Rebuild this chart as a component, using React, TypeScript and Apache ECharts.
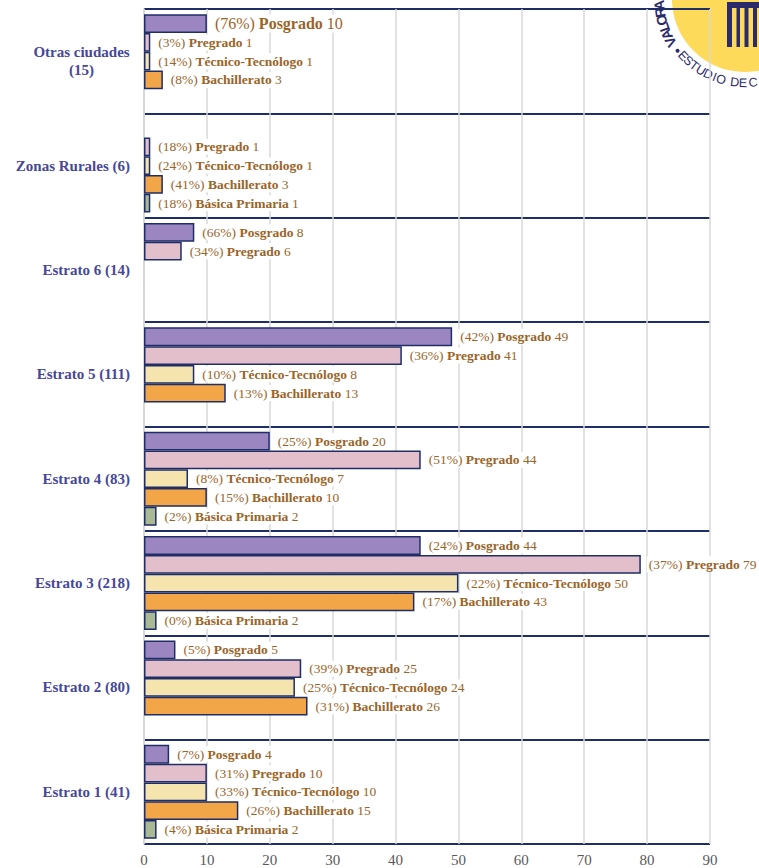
import React, { useEffect, useRef } from 'react';
import * as echarts from 'echarts';

const categories = [
  'Estrato 1 (41)',
  'Estrato 2 (80)',
  'Estrato 3 (218)',
  'Estrato 4 (83)',
  'Estrato 5 (111)',
  'Estrato 6 (14)',
  'Zonas Rurales (6)',
  'Otras ciudades (15)',
];

const seriesNames = ['Posgrado', 'Pregrado', 'Técnico-Tecnólogo', 'Bachillerato', 'Básica Primaria'];

const posgrado = [4, 5, 44, 20, 49, 8, null, 10];
const posgradoPct = [7, 5, 24, 25, 42, 66, null, 76];
const pregrado = [10, 25, 79, 44, 41, 6, 1, 1];
const pregradoPct = [31, 39, 37, 51, 36, 34, 18, 3];
const tecnico = [10, 24, 50, 7, 8, null, 1, 1];
const tecnicoPct = [33, 25, 22, 8, 10, null, 24, 14];
const bachillerato = [15, 26, 43, 10, 13, null, 3, 3];
const bachilleratoPct = [26, 31, 17, 15, 13, null, 41, 8];
const basica = [2, null, 2, 2, null, null, 1, null];
const basicaPct = [4, null, 0, 2, null, null, 18, null];

const xTicks = [0, 10, 20, 30, 40, 50, 60, 70, 80, 90];

const NAVY = '#1F2E66';
const LABEL_BROWN = '#9A6428';
const CAT_COLOR = '#47479A';
const SERIF = 'Liberation Serif';
const LOGO_NAVY = '#2B2A6B';

const seriesValues = [posgrado, pregrado, tecnico, bachillerato, basica];
const seriesPcts = [posgradoPct, pregradoPct, tecnicoPct, bachilleratoPct, basicaPct];
const seriesColors = ['#9C86C2', '#E3BECB', '#F5E4AD', '#F2A647', '#A8B994'];

export default function App() {
  const ref = useRef<HTMLDivElement>(null);

  useEffect(() => {
    const chart = echarts.init(ref.current!, null, { renderer: 'svg' });

    const logoCx = 745;
    const logoCy = -1;
    const deg = Math.PI / 180;
    const logoTexts: any[] = [];
    const valora = 'VALORA';
    const valoraAngles = [150, 155.6, 160.8, 165.8, 171, 176];
    valora.split('').forEach((ch, i) => {
      const th = valoraAngles[i];
      const R = 86;
      logoTexts.push({
        type: 'text',
        x: logoCx + R * Math.cos(th * deg),
        y: logoCy + R * Math.sin(th * deg),
        rotation: (270 - th) * deg,
        style: {
          text: ch,
          fill: LOGO_NAVY,
          font: 'bold 14px Liberation Sans',
          align: 'center',
          verticalAlign: 'middle',
        },
      });
    });
    logoTexts.push({
      type: 'circle',
      shape: { cx: logoCx + 85 * Math.cos(142.5 * deg), cy: logoCy + 85 * Math.sin(142.5 * deg), r: 2 },
      style: { fill: LOGO_NAVY },
    });
    const estudio = 'ESTUDIO DE C';
    const estAngles = [137.5, 132.5, 127.5, 121.8, 116, 111.3, 106.6, 100, 97, 91.3, 88, 84.5];
    estudio.split('').forEach((ch, i) => {
      if (ch === ' ') return;
      const th = estAngles[i];
      const R = 84;
      logoTexts.push({
        type: 'text',
        x: logoCx + R * Math.cos(th * deg),
        y: logoCy + R * Math.sin(th * deg),
        rotation: (90 - th) * deg,
        style: {
          text: ch,
          fill: LOGO_NAVY,
          font: '12.5px Liberation Sans',
          align: 'center',
          verticalAlign: 'middle',
        },
      });
    });

    const option: any = {
      animation: false,
      backgroundColor: '#ffffff',
      textStyle: { fontFamily: SERIF },
      grid: { left: 144, right: 49, top: 9, bottom: 24, containLabel: false },
      xAxis: {
        type: 'value',
        min: xTicks[0],
        max: xTicks[xTicks.length - 1],
        interval: 10,
        axisLine: { show: false },
        axisTick: { show: false },
        splitLine: { show: true, lineStyle: { color: '#D9D9D9', width: 1.5 } },
        axisLabel: { color: '#595959', fontFamily: SERIF, fontSize: 15, margin: 8 },
      },
      yAxis: {
        type: 'category',
        data: categories,
        axisLine: { show: true, lineStyle: { color: '#D4D4D4', width: 1.5 } },
        axisTick: { show: false },
        splitLine: { show: true, interval: 0, lineStyle: { color: NAVY, width: 2 } },
        axisLabel: {
          margin: 14,
          color: CAT_COLOR,
          fontFamily: SERIF,
          fontWeight: 'bold',
          fontSize: 15,
          formatter: (v: string) => {
            if (v.startsWith('Otras')) {
              const idx = v.indexOf(' (');
              return `{c|${v.slice(0, idx)}}\n{c|${v.slice(idx + 1)}}`;
            }
            return v;
          },
          rich: {
            c: {
              width: 97,
              align: 'center',
              fontWeight: 'bold',
              fontSize: 15,
              color: CAT_COLOR,
              fontFamily: SERIF,
              lineHeight: 18,
            },
          },
        },
      },
      series: seriesNames.map((name, si) => ({
        type: 'bar',
        name,
        barGap: '0%',
        barCategoryGap: '10%',
        itemStyle: { color: seriesColors[si], borderColor: NAVY, borderWidth: 1.5 },
        label: {
          show: true,
          position: 'right',
          distance: 6,
          backgroundColor: '#ffffff',
          padding: [1, 2],
          color: LABEL_BROWN,
          fontFamily: SERIF,
          fontSize: 13.5,
          formatter: (p: any) =>
            p.value == null ? '' : `{p|(${seriesPcts[si][p.dataIndex]}%) }{b|${name}}{v| ${p.value}}`,
          rich: {
            p: { color: LABEL_BROWN, fontFamily: SERIF, fontSize: 13.5 },
            b: { color: LABEL_BROWN, fontFamily: SERIF, fontSize: 13.5, fontWeight: 'bold' },
            v: { color: LABEL_BROWN, fontFamily: SERIF, fontSize: 13.5 },
            pL: { color: LABEL_BROWN, fontFamily: SERIF, fontSize: 16 },
            bL: { color: LABEL_BROWN, fontFamily: SERIF, fontSize: 16, fontWeight: 'bold' },
            vL: { color: LABEL_BROWN, fontFamily: SERIF, fontSize: 16 },
          },
        },
        data: seriesValues[si].map((v, i) => {
          if (si === 0 && i === categories.length - 1 && v != null) {
            return {
              value: v,
              label: {
                formatter: `{pL|(${seriesPcts[si][i]}%) }{bL|${name}}{vL| ${v}}`,
              },
            };
          }
          return v;
        }),
      })),
      graphic: [
        {
          type: 'group',
          z: 100,
          children: [
            { type: 'circle', shape: { cx: logoCx, cy: logoCy, r: 98 }, style: { fill: '#ffffff' } },
            { type: 'circle', shape: { cx: logoCx, cy: logoCy, r: 73 }, style: { fill: '#FDDA5A' } },
            { type: 'rect', shape: { x: 727, y: 2, width: 32, height: 6 }, style: { fill: LOGO_NAVY } },
            { type: 'rect', shape: { x: 727, y: 2, width: 5, height: 45 }, style: { fill: LOGO_NAVY } },
            { type: 'rect', shape: { x: 736.5, y: 2, width: 3.5, height: 45 }, style: { fill: LOGO_NAVY } },
            { type: 'rect', shape: { x: 744.5, y: 2, width: 4, height: 45 }, style: { fill: LOGO_NAVY } },
            { type: 'rect', shape: { x: 753, y: 2, width: 4, height: 45 }, style: { fill: LOGO_NAVY } },
            ...logoTexts,
          ],
        },
      ],
    };

    chart.setOption(option);
    return () => chart.dispose();
  }, []);

  return (
    <div
      ref={ref}
      style={{ position: 'absolute', left: 0, top: 0, width: 759, height: 868 }}
    />
  );
}
